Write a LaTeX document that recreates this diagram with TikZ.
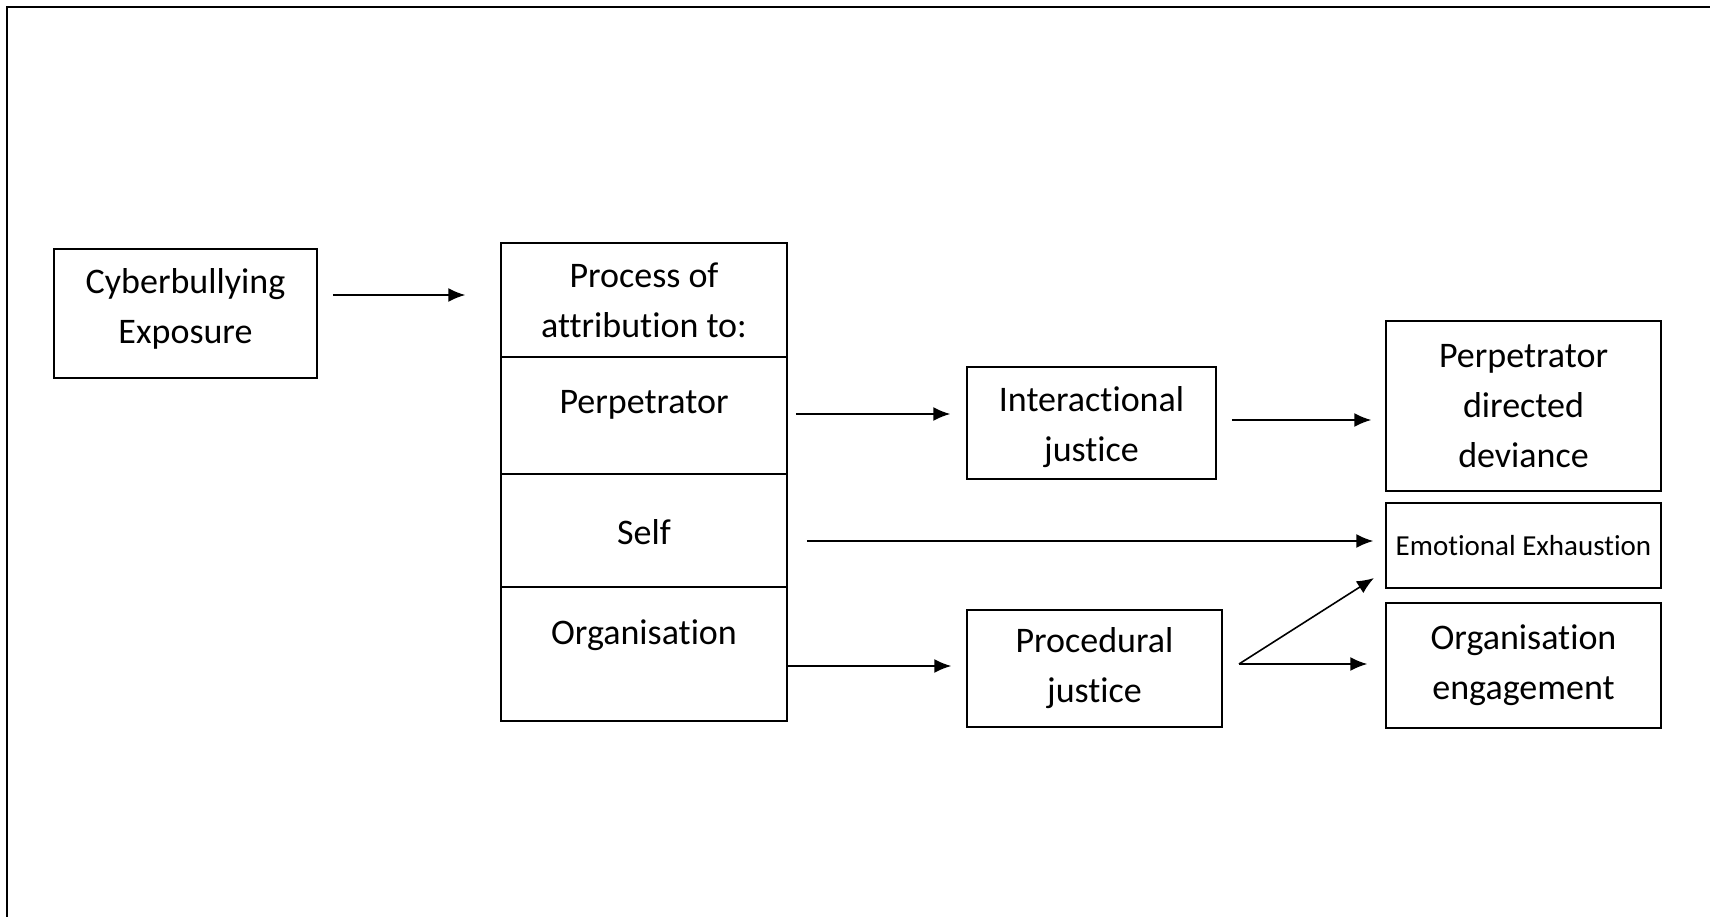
\documentclass[tikz,border=0pt]{standalone}
\usepackage{fontspec}
\setmainfont{Carlito}[Ligatures=NoCommon]
\usetikzlibrary{arrows.meta}
\begin{document}
\begin{tikzpicture}[x=1pt,y=-1pt,
  box/.style={draw,line width=1.5pt,inner sep=0pt,align=center,font=\fontsize{36}{50}\selectfont},
  txt/.style={inner sep=0pt,align=center,font=\fontsize{36}{50}\selectfont},
  arr/.style={line width=1.6pt,-{Latex[length=17pt,width=14pt]}}]
\useasboundingbox (0,0) rectangle (1710,917);
% frame
\draw[line width=1.8pt] (7,917) -- (7,7) -- (1710,7);
% left box
\node[box,minimum width=263pt,minimum height=129pt] (cb) at (185.5,313.5) {};
\node[txt] (tcb) at (185.5,309) {Cyberbullying\\Exposure};
% attribution column
\node[box,minimum width=286pt,minimum height=114pt] (pa) at (644,300) {Process of\\attribution to:};
\node[box,minimum width=286pt,minimum height=117pt] (pp) at (644,415.5) {};
\node[box,minimum width=286pt,minimum height=113pt] (ps) at (644,530.5) {};
\node[box,minimum width=286pt,minimum height=134pt] (po) at (644,654) {};
\node[txt] (tp) at (644,405) {Perpetrator};
\node[txt] (ts) at (644,532) {Self};
\node[txt] (to) at (644,635) {Organisation};
% justice boxes
\node[box,minimum width=249pt,minimum height=112pt] (ij) at (1091.5,423) {};
\node[txt] (tij) at (1091.5,427) {Interactional\\justice};
\node[box,minimum width=255pt,minimum height=117pt] (pj) at (1094.5,668.5) {Procedural\\justice};
% outcomes
\node[box,minimum width=275pt,minimum height=170pt] (pdd) at (1523.5,406) {Perpetrator\\directed\\deviance};
\node[box,minimum width=275pt,minimum height=85pt,font=\fontsize{29}{34}\selectfont] (ee) at (1523.5,545.5) {Emotional Exhaustion};
\node[box,minimum width=275pt,minimum height=125pt] (oe) at (1523.5,665.5) {Organisation\\engagement};
% connectors
\draw[arr,shorten <=15pt,shorten >=35pt] (cb.east |- 0,295) -- (pa.west |- 0,295);
\draw[arr,shorten <=8pt,shorten >=16pt] (pp.east |- 0,414) -- (ij.west |- 0,414);
\draw[arr,shorten <=15pt,shorten >=14pt] (ij.east |- 0,420) -- (pdd.west |- 0,420);
\draw[arr,shorten <=19pt,shorten >=12pt] (ps.east |- 0,541) -- (ee.west |- 0,541);
\draw[arr,shorten >=15pt] (po.east |- 0,666) -- (pj.west |- 0,666);
\coordinate (pjout) at (1239,664);
\coordinate (eein) at (1374,578);
\draw[arr] (pjout) -- (eein);
\draw[arr,shorten >=18pt] (pjout) -- (oe.west |- pjout);
\end{tikzpicture}
\end{document}
